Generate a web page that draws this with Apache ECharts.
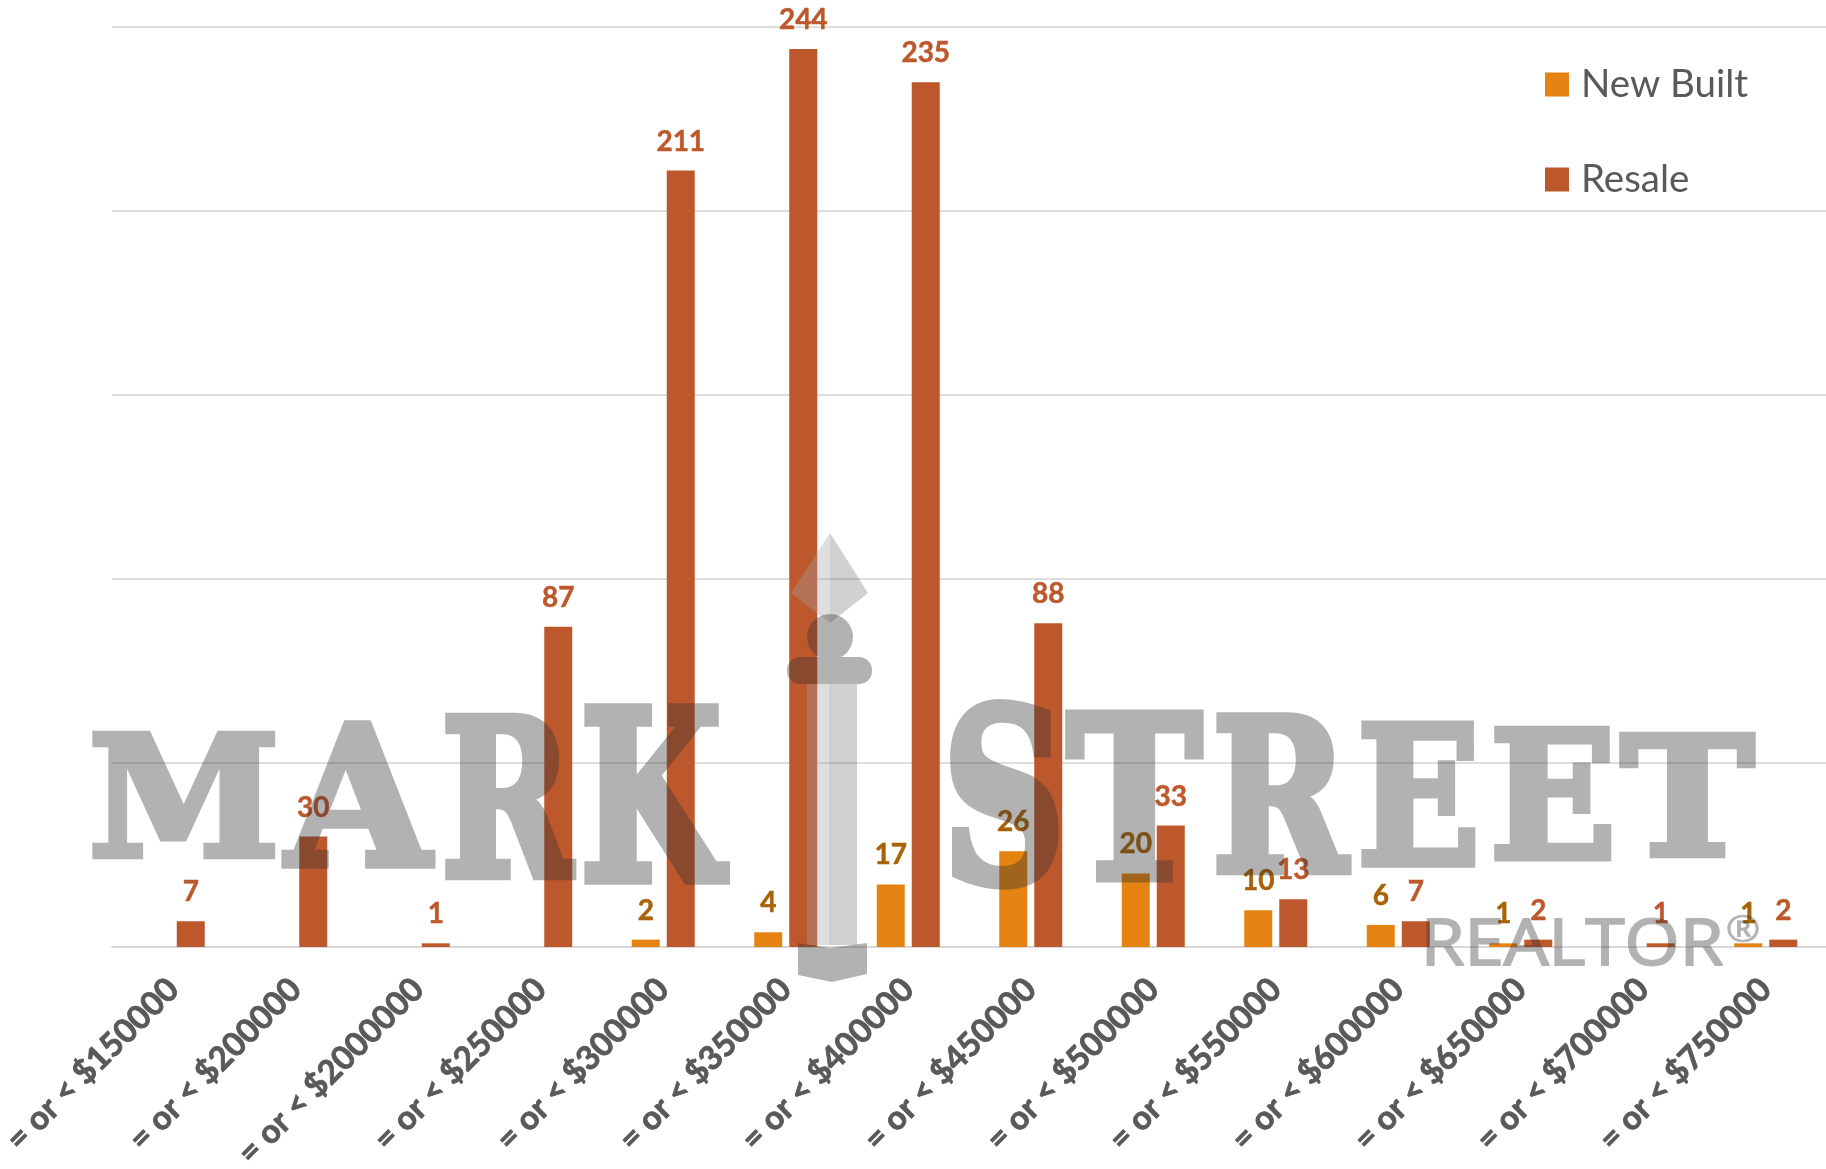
<!DOCTYPE html>
<html>
<head>
<meta charset="utf-8">
<style>html,body{margin:0;padding:0;background:#fff}#c{width:1826px;height:1169px}</style>
<script src="https://cdn.jsdelivr.net/npm/echarts@6/dist/echarts.min.js"></script>
</head>
<body>
<div id="c"></div>
<script>
const categories = ['= or < $150000','= or < $200000','= or < $2000000','= or < $250000','= or < $300000','= or < $350000','= or < $400000','= or < $450000','= or < $500000','= or < $550000','= or < $600000','= or < $650000','= or < $700000','= or < $750000'];
const newBuilt = [null,null,null,null,2,4,17,26,20,10,6,1,null,1];
const resale = [7,30,1,87,211,244,235,88,33,13,7,2,1,2];

const WM = 'rgb(50,50,50)';
const WM_LAYER_OPACITY = 0.37;
// watermark letters: char, left, right, top, bottom
const wmLetters = [
  ['M',92,276,730,859],['A',281,436,720,869],['R',445,577,713,880],['K',584,730,703,885],
  ['S',950,1059,698,890],['T',1065,1204,708,882],['R',1216,1352,712,875],['E',1361,1476,720,868],
  ['E',1494,1612,725,862],['T',1619,1756,730,858]
];
const ctx = document.createElement('canvas').getContext('2d');
function fitText(ch, font, x0, x1, top, bot, lw) {
  ctx.font = font; ctx.textBaseline = 'middle'; ctx.textAlign = 'left';
  const m = ctx.measureText(ch);
  const L = m.actualBoundingBoxLeft + lw / 2, R = m.actualBoundingBoxRight + lw / 2;
  const A = m.actualBoundingBoxAscent + lw / 2, D = m.actualBoundingBoxDescent + lw / 2;
  const sx = (x1 - x0) / (L + R), sy = (bot - top) / (A + D);
  return {
    type: 'text', zlevel: 1, z: 50, silent: true,
    x: x0 + sx * L, y: top + sy * A, scaleX: sx, scaleY: sy,
    style: { text: ch, font: font, fill: WM, stroke: WM, lineWidth: lw, lineJoin: 'miter', miterLimit: 3, align: 'left', verticalAlign: 'middle' }
  };
}
const poly = (points, fill, zlevel) => ({ type: 'polygon', zlevel: zlevel || 0, z: 50, silent: true, shape: { points }, style: { fill } });
const LIGHT_L = 'rgba(164,164,170,0.36)', LIGHT_R = 'rgba(60,60,60,0.24)';
const graphic = [
  ...wmLetters.map(l => fitText(l[0], 'bold 200px "DejaVu Serif"', l[1], l[2], l[3], l[4], 8)),
  fitText('REALTOR', '400 100px "Open Sans"', 1426, 1724, 918, 967, 3),
  fitText('®', '400 100px "Open Sans"', 1727, 1759, 915, 943, 2),
  // spear emblem
  poly([[830,533],[830,623],[791,593]], LIGHT_L),
  poly([[830,533],[868,593],[830,623]], LIGHT_R),
  poly([[807,684],[829,684],[829,945],[807,945]], LIGHT_L),
  poly([[829,684],[857,684],[857,945],[829,945]], LIGHT_R),
  { type: 'circle', zlevel: 1, z: 50, silent: true, shape: { cx: 830, cy: 637, r: 23 }, style: { fill: WM } },
  { type: 'rect', zlevel: 1, z: 50, silent: true, shape: { x: 787, y: 657, width: 85, height: 27, r: 13 }, style: { fill: WM } },
  poly([[798,943],[830,948],[867,943],[867,974],[832,982],[798,975]], WM, 1)
];

const chart = echarts.init(document.getElementById('c'), null, { renderer: 'canvas' });
function applyLayer() {
  const cs = document.querySelectorAll('#c canvas');
  if (cs[1]) cs[1].style.opacity = WM_LAYER_OPACITY;
}
chart.on('finished', applyLayer);
const axisText = { fontFamily: 'Lato', fontWeight: 'bold', fontSize: 33, color: '#595959', textBorderColor: '#595959', textBorderWidth: 0.8 };
const valueLabel = (color) => ({ show: true, position: 'top', distance: 15, fontFamily: 'Lato', fontWeight: 'bold', fontSize: 28, color, textBorderColor: color, textBorderWidth: 0.5 });
chart.setOption({
  animation: false,
  backgroundColor: '#ffffff',
  grid: { left: 112, top: 27, width: 1715, height: 920, containLabel: false, outerBoundsMode: 'none' },
  legend: {
    orient: 'vertical', left: 1540, top: 60, itemWidth: 24, itemHeight: 24, itemGap: 56,
    icon: 'rect', selectedMode: false,
    textStyle: { fontFamily: 'Lato', fontSize: 38.5, color: '#595959', padding: [0,0,0,7] },
    data: ['New Built', 'Resale']
  },
  xAxis: {
    type: 'category', data: categories,
    axisLine: { lineStyle: { color: '#D9D9D9', width: 2 } },
    axisTick: { show: false },
    axisLabel: Object.assign({ interval: 0, rotate: 45, margin: 37 }, axisText)
  },
  yAxis: {
    type: 'value', min: 0, max: 250, interval: 50,
    axisLine: { show: false }, axisTick: { show: false }, axisLabel: { show: false },
    splitLine: { lineStyle: { color: '#DDDDDD', width: 2 } }
  },
  series: [
    { name: 'New Built', type: 'bar', data: newBuilt, barWidth: 28, barGap: '25%',
      itemStyle: { color: '#E48312' }, label: valueLabel('#A86207') },
    { name: 'Resale', type: 'bar', data: resale, barWidth: 28, barGap: '25%',
      itemStyle: { color: '#BD582C' }, label: valueLabel('#BD582C') }
  ],
  graphic: graphic
});
applyLayer();
requestAnimationFrame(applyLayer);
</script>
</body>
</html>
